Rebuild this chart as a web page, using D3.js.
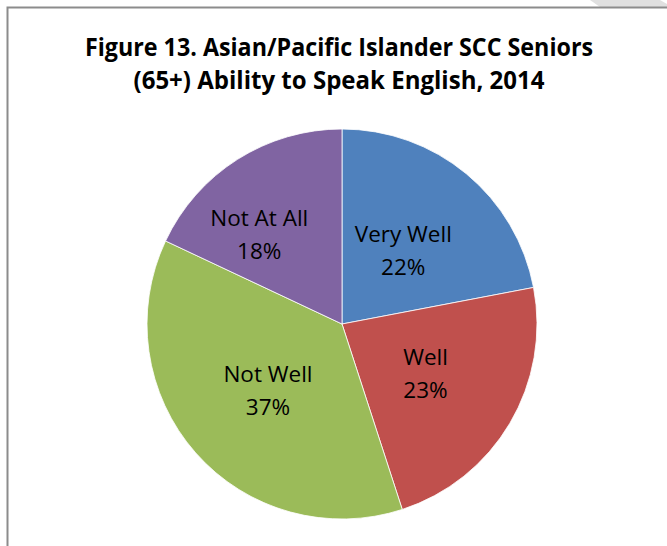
<!DOCTYPE html>
<html>
<head>
<meta charset="utf-8">
<script src="https://cdn.jsdelivr.net/npm/d3@7"></script>
<style>
    body { margin: 0; background: #fff; }
    svg { display: block; }
</style>
</head>
<body>
<script>
(function() {

    //chart values
    let categories = ["Very Well", "Well", "Not Well", "Not At All"];
    let shares = [22, 23, 37, 18];
    let sliceColors = ["#4F81BD", "#C0504D", "#9BBB59", "#8064A2"];
    let titleLines = ["Figure 13. Asian/Pacific Islander SCC Seniors", "(65+) Ability to Speak English, 2014"];

    //label nudges (Excel "best fit" placement), layout only
    let labelNudge = [[-5, 0], [-6, -10], [4, -9], [-27, -8]];

    let width = 667,
        height = 546;

    const svg = d3.select("body")
        .append("svg")
        .attr("width", width)
        .attr("height", height);

    //page decoration at the very top right
    svg.append("polygon")
        .attr("points", "590,0 660,0 667,4 667,7 600,7")
        .attr("fill", "#e0e0e0");

    //chart frame, cut off on the right and at the bottom
    svg.append("path")
        .attr("d", "M7.5," + height + " L7.5,7.5 L" + width + ",7.5")
        .attr("fill", "none")
        .attr("stroke", "#8c8c8c")
        .attr("stroke-width", 2);

    //title
    const titleWidths = [508, 411];
    svg.selectAll(".title")
        .data(titleLines)
        .enter()
        .append("text")
        .attr("class", "title")
        .attr("x", 339)
        .attr("y", function(d, i) { return 56 + i * 33; })
        .attr("text-anchor", "middle")
        .attr("font-family", "'Open Sans', 'Noto Sans', sans-serif")
        .attr("font-weight", "bold")
        .attr("font-size", 25)
        .attr("textLength", function(d, i) { return titleWidths[i]; })
        .attr("lengthAdjust", "spacingAndGlyphs")
        .attr("fill", "#000")
        .text(function(d) { return d; });

    //pie
    const cx = 342, cy = 324, radius = 195;

    const pie = d3.pie()
        .sort(null)
        .value(function(d) { return d; });

    const arc = d3.arc()
        .innerRadius(0)
        .outerRadius(radius);

    const labelArc = d3.arc()
        .innerRadius(104)
        .outerRadius(104);

    const g = svg.append("g")
        .attr("transform", "translate(" + cx + "," + cy + ")");

    const arcs = pie(shares);

    g.selectAll(".slice")
        .data(arcs)
        .enter()
        .append("path")
        .attr("class", "slice")
        .attr("d", arc)
        .attr("fill", function(d, i) { return sliceColors[i]; })
        .attr("stroke", "#fff")
        .attr("stroke-width", 0.8);

    const labels = g.selectAll(".label")
        .data(arcs)
        .enter()
        .append("text")
        .attr("class", "label")
        .attr("text-anchor", "middle")
        .attr("font-family", "'Open Sans', 'Noto Sans', sans-serif")
        .attr("font-size", 22.5)
        .attr("fill", "#000")
        .attr("transform", function(d, i) {
            let c = labelArc.centroid(d);
            return "translate(" + (c[0] + labelNudge[i][0]) + "," + (c[1] + labelNudge[i][1]) + ")";
        });

    labels.append("tspan")
        .attr("x", 0)
        .attr("y", -2)
        .text(function(d, i) { return categories[i]; });

    labels.append("tspan")
        .attr("x", 0)
        .attr("y", 31)
        .text(function(d) { return d.data + "%"; });

})();
</script>
</body>
</html>
